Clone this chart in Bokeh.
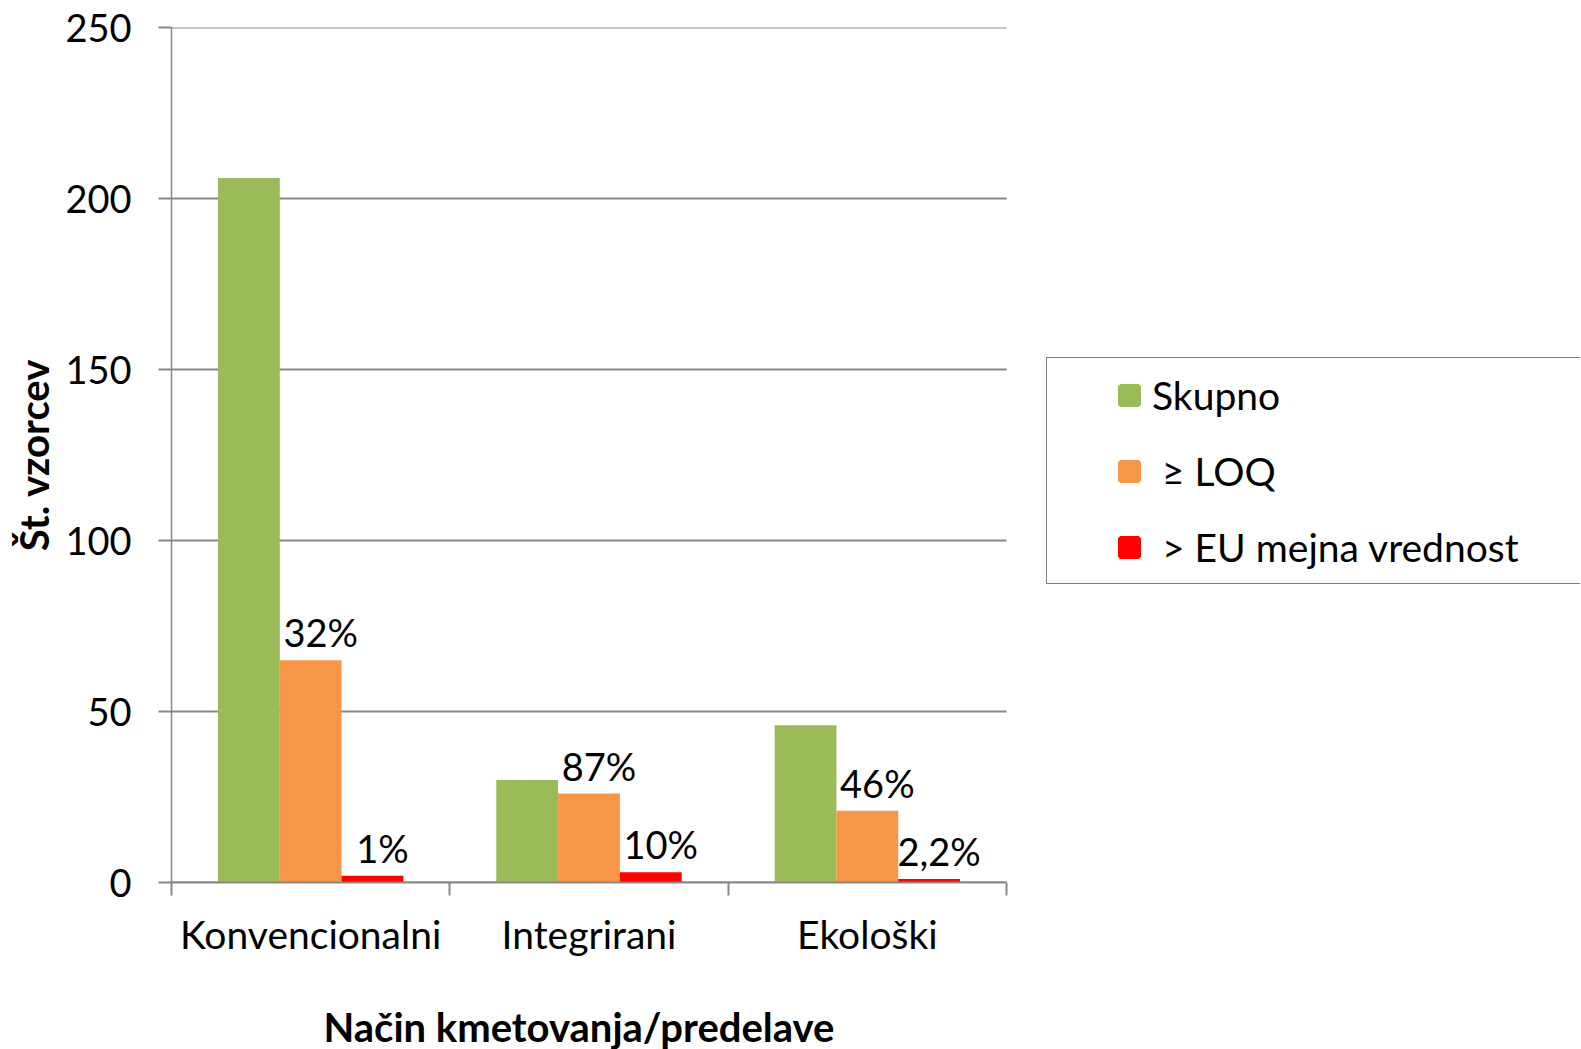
import numpy as np
from bokeh.plotting import figure
from bokeh.models import (ColumnDataSource, Range1d, FixedTicker, LabelSet,
                          Legend, LegendItem, Title)
from bokeh.transform import dodge
from bokeh.embed import file_html
from bokeh.resources import INLINE
from bokeh.core.properties import value

# ---- data ----
categories = ["Konvencionalni", "Integrirani", "Ekološki"]
skupno = [206, 30, 46]
loq = [65, 26, 21]
eu = [2, 3, 1]
loq_labels = ["32%", "87%", "46%"]
eu_labels = ["1%", "10%", "2,2%"]
series_names = ["Skupno", " ≥ LOQ", " > EU mejna vrednost"]
series_cols = ["skupno", "loq", "eu"]
colors = ["#9BBB59", "#F79646", "#FF0000"]
y_ticks = [0, 50, 100, 150, 200, 250]
x_title = "Način kmetovanja/predelave"
y_title = "Št. vzorcev"

FONT = "Lato"
FS = "39px"
FS_NUM = "38px"
FS_TITLE = "40px"
GRAY = "#888888"

PLOT_W = 835      # width of the bar area in px
FRAME_W = 1409    # frame extends to the right edge so the legend can sit there
n = len(categories)

xs = [i + 0.5 for i in range(n)]
src = ColumnDataSource(dict(x=xs, skupno=skupno, loq=loq, eu=eu,
                            loq_lab=loq_labels, eu_lab=eu_labels))
grid_src = ColumnDataSource(dict(y=y_ticks, x0=[0] * len(y_ticks),
                                 x1=[n] * len(y_ticks)))

p = figure(frame_width=FRAME_W, frame_height=855,
           x_range=Range1d(0, n * FRAME_W / PLOT_W), y_range=Range1d(0, max(y_ticks)),
           output_backend="svg", toolbar_location=None,
           min_border_left=171, min_border_top=27, min_border_bottom=160,
           min_border_right=0)
p.outline_line_color = None
p.background_fill_color = "white"
p.border_fill_color = "white"
p.xgrid.grid_line_color = None
p.ygrid.grid_line_color = None

# horizontal gridlines limited to the category area
p.segment(x0="x0", x1="x1", y0="y", y1="y", source=grid_src,
          line_color=GRAY, line_width=2)

W = 0.222
offsets = [-W, 0, W]
for col, c, off in zip(series_cols, colors, offsets):
    p.vbar(x=dodge("x", off), top=col, width=W, source=src,
           fill_color=c, line_color=None)

# data labels
for col, lab, off in [("loq", "loq_lab", 0), ("eu", "eu_lab", W)]:
    ls = LabelSet(x=dodge("x", off), y=col, text=lab, source=src,
                  x_offset=10, y_offset=13, text_align="center",
                  text_baseline="alphabetic", text_font=value(FONT),
                  text_font_size=value(FS_NUM), text_color=value("black"))
    p.add_layout(ls)

# legend frame (box only)
box = Legend(items=[LegendItem(label=" ", renderers=[])], location=(875, 298),
             margin=0, padding=0, glyph_width=0, glyph_height=225,
             label_height=225, label_width=700, label_standoff=0,
             border_line_color="black", border_line_width=1.5,
             background_fill_color="white", background_fill_alpha=1.0,
             label_text_font=FONT, label_text_font_size=FS)
p.add_layout(box, "center")

# legend entries (hidden markers sharing the data)
items = []
for name, col, c in zip(series_names, series_cols, colors):
    r = p.scatter(x="x", y=col, source=src, marker="square", size=18.4,
                  fill_color=c, line_color=c, line_width=4.6, visible=False)
    items.append(LegendItem(label=name, renderers=[r]))

legend = Legend(items=items, location=(935, 306), margin=0, padding=0, spacing=18,
                glyph_width=46, glyph_height=58, label_height=58,
                label_standoff=0,
                border_line_color=None, background_fill_alpha=0.0,
                inactive_fill_alpha=0.0,
                label_text_font=FONT, label_text_font_size=FS,
                label_text_color="black")
p.add_layout(legend, "center")

# axes
xa = p.xaxis[0]
xa.bounds = (0, n)
xa.ticker = FixedTicker(ticks=xs, minor_ticks=list(range(n + 1)))
xa.major_label_overrides = {x: c for x, c in zip(xs, categories)}
xa.major_tick_out = 0
xa.major_tick_in = 0
xa.minor_tick_out = 13
xa.minor_tick_in = 0
xa.minor_tick_line_color = GRAY
xa.minor_tick_line_width = 2
xa.axis_line_color = GRAY
xa.axis_line_width = 2
xa.major_label_standoff = 15
xa.major_label_text_font = FONT
xa.major_label_text_font_size = FS
xa.major_label_text_color = "black"
# blank spacer label to push the title (below) down
xa.axis_label = " "
xa.axis_label_text_font_size = "10px"
xa.axis_label_standoff = 25

# x axis title, aligned under the category area
xt = Title(text=x_title, align="left", offset=152, standoff=4,
           text_font=FONT, text_font_size=FS_TITLE, text_font_style="bold",
           text_color="black")
p.add_layout(xt, "below")

ya = p.yaxis[0]
ya.ticker = FixedTicker(ticks=y_ticks, minor_ticks=[])
ya.major_tick_out = 13
ya.major_tick_in = 0
ya.major_tick_line_color = GRAY
ya.major_tick_line_width = 2
ya.minor_tick_out = 0
ya.minor_tick_in = 0
ya.axis_line_color = GRAY
ya.axis_line_width = 1.5
ya.major_label_standoff = 27
ya.major_label_text_font = FONT
ya.major_label_text_font_size = FS_NUM
ya.major_label_text_color = "black"
ya.axis_label = y_title
ya.axis_label_text_font = FONT
ya.axis_label_text_font_size = FS_TITLE
ya.axis_label_text_font_style = "bold"
ya.axis_label_text_color = "black"
ya.axis_label_standoff = 4

open("out.html", "w").write(file_html(p, INLINE))
